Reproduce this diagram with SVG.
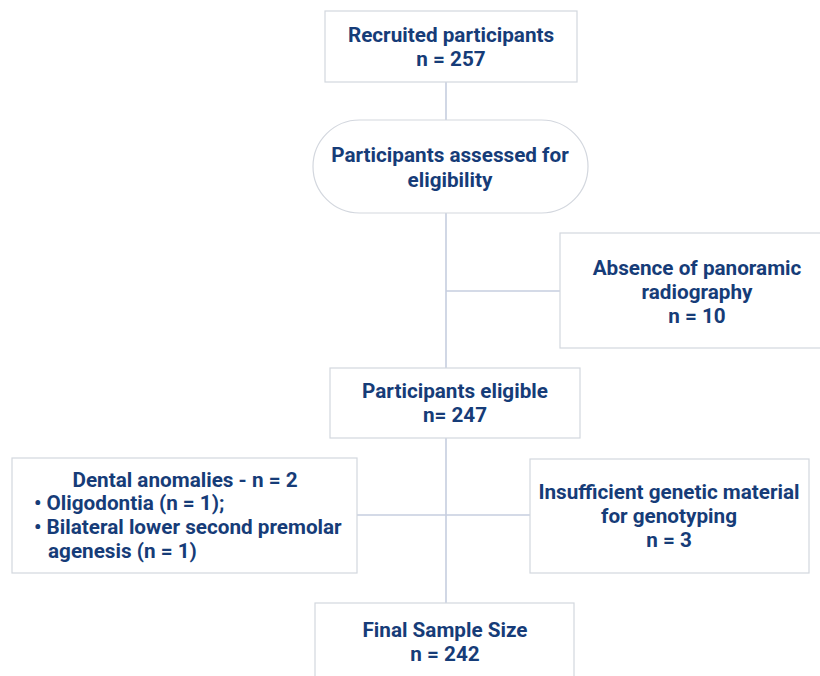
<svg xmlns="http://www.w3.org/2000/svg" width="820" height="676" viewBox="0 0 820 676">
<style>
.box{fill:#ffffff;stroke:#d3d7de;stroke-width:1.2}
.ln{stroke:#c6cedf;stroke-width:1.6;fill:none}
text{font-family:Roboto,"Liberation Sans",sans-serif;font-weight:bold;font-size:20.7px;fill:#163c78}
.c{text-anchor:middle}
</style>
<rect width="820" height="676" fill="#ffffff"/>
<g id="connectors">
<line class="ln" x1="446" y1="82" x2="446" y2="120"/>
<line class="ln" x1="446" y1="213" x2="446" y2="368"/>
<line class="ln" x1="446" y1="291" x2="560" y2="291"/>
<line class="ln" x1="446" y1="438" x2="446" y2="603"/>
<line class="ln" x1="357" y1="515" x2="530" y2="515"/>
</g>
<g id="recruited">
<rect class="box" x="325" y="11" width="252" height="71"/>
<text class="c" x="451" y="42">Recruited participants</text>
<text class="c" x="451" y="66">n = 257</text>
</g>
<g id="assessed">
<rect class="box" x="313" y="120" width="275" height="93" rx="46.5"/>
<text class="c" x="450" y="162">Participants assessed for</text>
<text class="c" x="450" y="187">eligibility</text>
</g>
<g id="absence">
<rect class="box" x="560" y="233" width="275" height="115"/>
<text class="c" x="697" y="275">Absence of panoramic</text>
<text class="c" x="697" y="299">radiography</text>
<text class="c" x="697" y="323">n = 10</text>
</g>
<g id="eligible">
<rect class="box" x="330" y="368" width="250" height="70"/>
<text class="c" x="455" y="398">Participants eligible</text>
<text class="c" x="455" y="422">n= 247</text>
</g>
<g id="dental">
<rect class="box" x="12" y="458" width="345" height="115"/>
<text class="c" x="185" y="487">Dental anomalies - n = 2</text>
<text x="34" y="510">• Oligodontia (n = 1);</text>
<text x="34" y="534">• Bilateral lower second premolar</text>
<text x="48" y="558">agenesis (n = 1)</text>
</g>
<g id="insufficient">
<rect class="box" x="530" y="459" width="279" height="114"/>
<text class="c" x="669" y="499">Insufficient genetic material</text>
<text class="c" x="669" y="523">for genotyping</text>
<text class="c" x="669" y="547">n = 3</text>
</g>
<g id="final">
<rect class="box" x="315" y="603" width="259" height="80"/>
<text class="c" x="445" y="637">Final Sample Size</text>
<text class="c" x="445" y="661">n = 242</text>
</g>
</svg>
